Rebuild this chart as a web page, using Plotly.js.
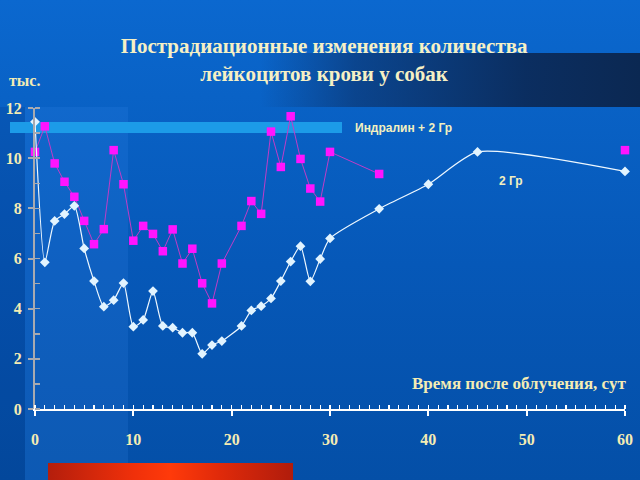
<!DOCTYPE html>
<html>
<head>
<meta charset="utf-8">
<script src="https://cdn.plot.ly/plotly-3.0.1.min.js"></script>
<style>
html,body{margin:0;padding:0;}
body{width:640px;height:480px;overflow:hidden;position:relative;
 background:linear-gradient(to bottom,#0b68cf 0%,#0962c6 20%,#0658b8 55%,#044fa7 100%);}
.d{position:absolute;}
</style>
</head>
<body>
<div class="d" style="left:0;top:107px;width:25px;height:373px;background:rgba(0,20,70,0.12)"></div>
<div class="d" style="left:25px;top:107px;width:103px;height:373px;background:rgba(60,140,240,0.16)"></div>
<div class="d" style="left:260px;top:53px;width:380px;height:54px;background:linear-gradient(to right,rgba(12,44,95,0) 0%,rgba(12,44,95,0.55) 25%,rgba(11,40,85,0.9) 70%,#0b2852 100%)"></div>
<div class="d" style="left:10px;top:122px;width:332px;height:11px;background:#1c9be8"></div>
<div class="d" style="left:48px;top:463px;width:245px;height:17px;background:linear-gradient(to right,#b41e0c 0%,#f0300a 35%,#ff3a0a 50%,#e02a0a 70%,#b01c0c 100%)"></div>
<div id="chart" class="d" style="left:0;top:0;width:640px;height:480px"></div>
<script>
// Days after irradiation
const days = [0,1,2,3,4,5,6,7,8,9,10,11,12,13,14,15,16,17,18,19,21,22,23,24,25,26,27,28,29,30,35,40,45,60];
// "2 Гр" (white, diamonds)
const gr2 = [11.45,5.85,7.5,7.77,8.1,6.4,5.1,4.08,4.34,5.02,3.28,3.55,4.7,3.31,3.24,3.04,3.04,2.2,2.55,2.71,3.31,3.93,4.1,4.41,5.1,5.88,6.49,5.09,5.98,6.8,7.98,8.96,10.25,9.47];
// "Индралин + 2 Гр" (magenta, squares)
const indr = [10.25,11.27,9.79,9.06,8.46,7.5,6.57,7.17,10.32,8.96,6.71,7.3,6.98,6.29,7.16,5.8,6.39,5.01,4.21,5.8,7.3,8.29,7.78,11.06,9.65,11.67,9.97,8.79,8.27,10.25,9.37,null,null,10.32];
const xTicks = [0,10,20,30,40,50,60];
const yTicks = [0,2,4,6,8,10,12];

const cream = '#f4ecb4';
const serif = 'Liberation Serif, Times New Roman, serif';
const sans = 'Liberation Sans, Arial, sans-serif';

const traces = [
 {x: days, y: indr, name: 'Индралин + 2 Гр', type: 'scatter', mode: 'lines+markers',
  connectgaps: false, cliponaxis: false,
  line: {color: '#c03cc8', width: 1},
  marker: {symbol: 'square', size: 8.5, color: '#ff14ff'}},
 {x: days, y: gr2, name: '2 Гр', type: 'scatter', mode: 'lines+markers',
  cliponaxis: false,
  line: {color: '#eef8ff', width: 1.2, shape: 'spline', smoothing: 0.6},
  marker: {symbol: 'diamond', size: 7.5, color: '#e2f4ff'}}
];

const layout = {
 width: 640, height: 480,
 margin: {l: 35, r: 15, t: 108, b: 71},
 paper_bgcolor: 'rgba(0,0,0,0)', plot_bgcolor: 'rgba(0,0,0,0)',
 showlegend: false,
 title: {text: '<b>Пострадиационные изменения количества<br>лейкоцитов крови у собак</b>',
   font: {family: serif, size: 21, color: '#f6f0c4'},
   x: 0.49, xanchor: 'center', xref: 'paper', y: 0.889, yanchor: 'top', yref: 'container'},
 xaxis: {range: [0, 60], tickvals: xTicks, ticktext: xTicks.map(String),
   ticks: 'outside', ticklen: 5, tickwidth: 2, tickcolor: '#ffffff',
   showline: true, linecolor: '#ffffff', linewidth: 2,
   showgrid: false, zeroline: false, ticklabelstandoff: 10,
   minor: {dtick: 1, ticks: 'inside', ticklen: 4, tickwidth: 1.2, tickcolor: '#ffffff', showgrid: false},
   tickfont: {family: serif, size: 16, color: cream, weight: 'bold'}},
 yaxis: {range: [0, 12], tickvals: yTicks, ticktext: yTicks.map(String),
   ticks: 'outside', ticklen: 5, tickwidth: 2, tickcolor: '#a8aab0',
   showline: true, linecolor: '#a8aab0', linewidth: 2,
   showgrid: false, zeroline: false, ticklabelstandoff: 3,
   minor: {dtick: 1, ticks: 'inside', ticklen: 5, tickwidth: 1.5, tickcolor: '#a8aab0', showgrid: false},
   tickfont: {family: serif, size: 16, color: cream, weight: 'bold'}},
 annotations: [
  {text: '<b>тыс.</b>', xref: 'paper', yref: 'paper', x: -0.048, y: 1.09, xanchor: 'left', yanchor: 'middle',
   showarrow: false, font: {family: serif, size: 16, color: cream}},
  {text: '<b>Время после облучения, сут</b>', xref: 'paper', yref: 'paper', x: 1.005, y: 0.086, xanchor: 'right', yanchor: 'middle',
   showarrow: false, font: {family: serif, size: 17, color: cream}},
  {text: '<b>Индралин + 2 Гр</b>', xref: 'paper', yref: 'paper', x: 0.539, y: 0.935, xanchor: 'left', yanchor: 'middle',
   showarrow: false, font: {family: sans, size: 12, color: '#f2f0c0'}},
  {text: '<b>2 Гр</b>', xref: 'paper', yref: 'paper', x: 0.783, y: 0.756, xanchor: 'left', yanchor: 'middle',
   showarrow: false, font: {family: sans, size: 12, color: '#f2f0c0'}}
 ]
};

Plotly.newPlot('chart', traces, layout, {staticPlot: true, displayModeBar: false});
</script>
</body>
</html>
